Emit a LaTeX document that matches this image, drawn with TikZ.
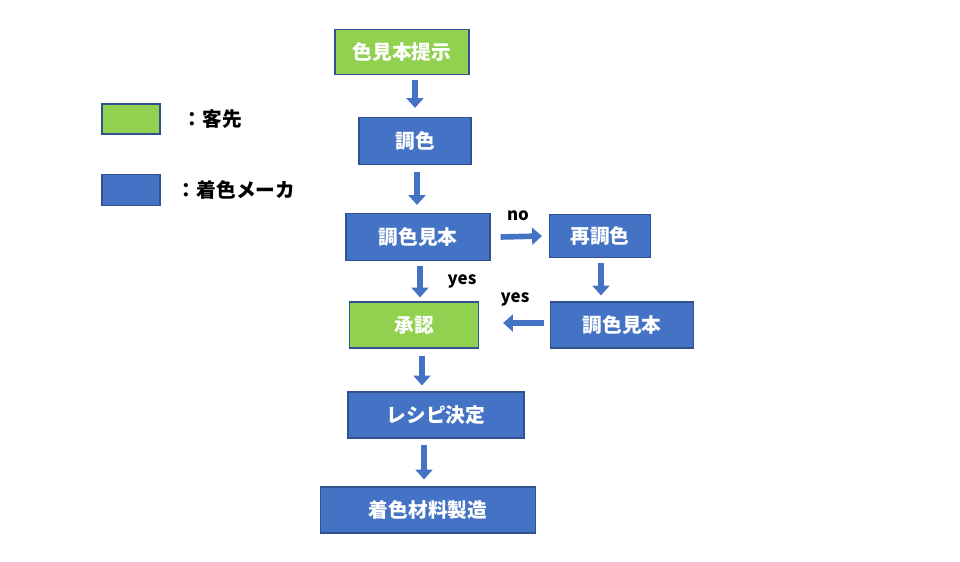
\documentclass[tikz,border=0pt]{standalone}
\usepackage{fontspec}
\setmainfont{Noto Sans CJK JP}
\usetikzlibrary{arrows.meta, positioning, calc}

\definecolor{custgreen}{HTML}{92D050}
\definecolor{makerblue}{HTML}{4472C4}
\definecolor{edgeblue}{HTML}{2F528F}

\begin{document}
\begin{tikzpicture}[x=0.025cm, y=-0.025cm,
    box/.style={draw=edgeblue, thick, fill=makerblue, text=white, font=\bfseries\fontsize{14}{16}\selectfont, inner sep=0pt},
    client/.style={box, fill=custgreen},
    flow/.style={draw=makerblue, line width=4pt, -{Triangle[width=12pt, length=7pt]}},
    lbl/.style={font=\bfseries\fontsize{12}{14}\selectfont}]
    \useasboundingbox (0,0) rectangle (960,561);

    % legend
    \node[client, minimum width=58*0.025cm, minimum height=30*0.025cm] (lgreen) at (131,119) {};
    \node[box, minimum width=58*0.025cm, minimum height=31*0.025cm] (lblue) at (131,190) {};
    \node[anchor=west, font=\bfseries\fontsize{14}{16}\selectfont] (tgreen) at (178,119) {：客先};
    \node[anchor=west, font=\bfseries\fontsize{14}{16}\selectfont] (tblue) at (172,190) {：着色メーカ};

    % boxes
    \node[client, minimum width=134*0.025cm, minimum height=45*0.025cm] (sample) at (402,52) {色見本提示};
    \node[box, minimum width=112*0.025cm, minimum height=47*0.025cm] (mix) at (415,141) {調色};
    \node[box, minimum width=144*0.025cm, minimum height=47*0.025cm] (mixsample) at (418,237) {調色見本};
    \node[box, minimum width=101*0.025cm, minimum height=43*0.025cm] (remix) at (600,236) {再調色};
    \node[client, minimum width=129*0.025cm, minimum height=46*0.025cm] (approve) at (414,325) {承認};
    \node[box, minimum width=143*0.025cm, minimum height=46*0.025cm] (resample) at (622,325) {調色見本};
    \node[box, minimum width=176*0.025cm, minimum height=46*0.025cm] (recipe) at (436,415) {レシピ決定};
    \node[box, minimum width=215*0.025cm, minimum height=46*0.025cm] (make) at (428,510) {着色材料製造};

    % connectors
    \draw[flow] ($(sample.south)+(13,5)$) -- ($(mix.north)+(0,-9)$);
    \draw[flow] ($(mix.south)+(2,7)$) -- ($(mixsample.north)+(-1,-8)$);
    \draw[flow] ($(mixsample.south)+(2,5)$) -- ($(approve.north)+(6,-4)$);
    \draw[flow] ($(mixsample.east)+(10,0)$) -- ($(remix.west)+(-7,0)$);
    \draw[flow] ($(remix.south)+(1,5)$) -- ($(resample.north)+(-21,-6)$);
    \draw[flow] ($(resample.west)+(-6,-2)$) -- ($(approve.east)+(24,-2)$);
    \draw[flow] ($(approve.south)+(8,7)$) -- ($(recipe.north)+(-14,-6)$);
    \draw[flow] ($(recipe.south)+(-12,6)$) -- ($(make.north)+(-4,-7)$);

    \node[lbl] (no) at (518,216) {no};
    \node[lbl] (yes1) at (462,281) {yes};
    \node[lbl] (yes2) at (515,299) {yes};
\end{tikzpicture}
\end{document}
